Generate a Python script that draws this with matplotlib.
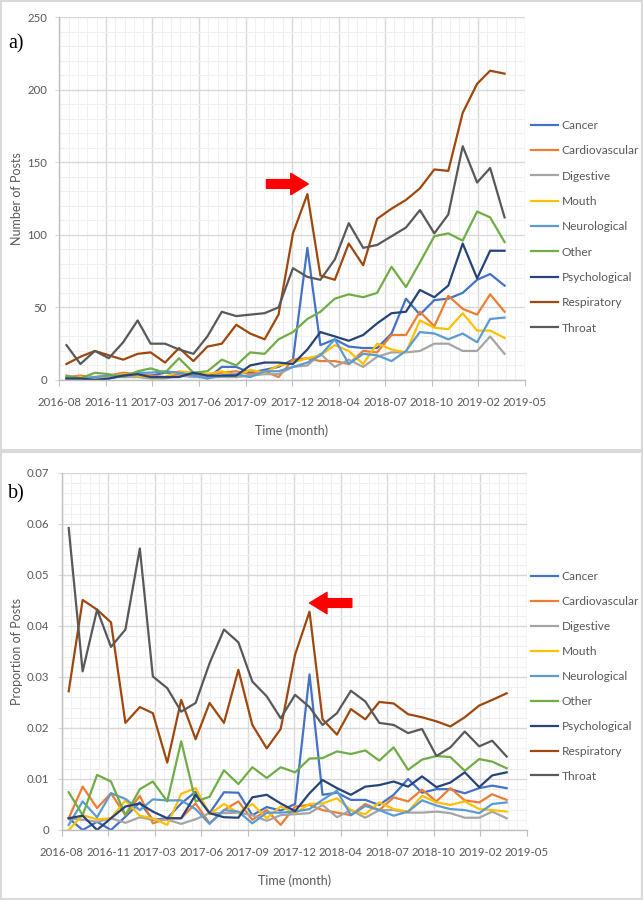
import numpy as np
import pandas as pd
import matplotlib
matplotlib.use("Agg")
import matplotlib.pyplot as plt
import matplotlib.dates as mdates
from matplotlib.patches import Rectangle

plt.rcParams['font.family'] = ['Lato', 'DejaVu Sans']

# monthly data, Sep 2016 .. Apr 2019
months = pd.date_range('2016-09-01', periods=32, freq='MS')
categories = ['Cancer', 'Cardiovascular', 'Digestive', 'Mouth', 'Neurological',
              'Other', 'Psychological', 'Respiratory', 'Throat']
colors = ['#4472C4', '#ED7D31', '#A5A5A5', '#FFC000', '#5B9BD5',
          '#70AD47', '#264478', '#9E480E', '#595959']

# a) number of posts
cancer_n = [1, 1, 0, 1, 3, 3, 3, 5, 5, 4, 1, 9, 9, 5, 7, 9, 14, 91, 24, 28, 23, 22, 22, 32, 56, 45, 55, 56, 60, 69, 73, 65]
cardio_n = [2, 3, 2, 3, 5, 4, 3, 2, 4, 2, 4, 5, 6, 4, 6, 2, 14, 15, 13, 13, 11, 20, 19, 31, 31, 47, 37, 58, 49, 45, 59, 47]
digest_n = [0, 1, 1, 2, 2, 2, 1, 1, 3, 2, 2, 2, 2, 3, 4, 4, 9, 10, 18, 9, 14, 9, 16, 19, 19, 20, 25, 25, 20, 20, 30, 18]
mouth_n = [0, 2, 2, 2, 4, 3, 2, 2, 6, 5, 4, 6, 3, 7, 5, 10, 12, 15, 17, 24, 20, 11, 25, 21, 19, 41, 36, 35, 46, 34, 34, 29]
neuro_n = [1, 1, 2, 3, 3, 5, 5, 6, 5, 3, 1, 3, 4, 2, 6, 6, 9, 12, 17, 28, 11, 18, 17, 13, 20, 33, 32, 28, 32, 26, 42, 43]
other_n = [3, 1, 5, 4, 2, 6, 8, 5, 15, 5, 6, 14, 10, 19, 18, 28, 33, 42, 47, 56, 59, 57, 60, 78, 64, 81, 99, 101, 96, 116, 112, 95]
psych_n = [1, 1, 0, 1, 3, 4, 2, 2, 2, 5, 3, 3, 3, 10, 12, 12, 11, 21, 33, 30, 27, 31, 39, 46, 47, 62, 57, 65, 94, 70, 89, 89]
resp_n = [11, 16, 20, 17, 14, 18, 19, 12, 22, 13, 23, 25, 38, 32, 28, 45, 101, 128, 72, 69, 94, 79, 111, 118, 124, 132, 145, 144, 184, 204, 213, 211]
throat_n = [24, 11, 20, 15, 26, 41, 25, 25, 21, 18, 30, 47, 44, 45, 46, 50, 77, 71, 69, 83, 108, 91, 93, 99, 105, 117, 101, 114, 161, 136, 146, 112]

# b) proportion of posts (x 1/1000)
cancer_p = [2.3, 0, 1.6, 0, 2.6, 5.4, 2.0, 2.3, 5.2, 7.5, 3.3, 7.4, 7.3, 2.9, 4.5, 3.8, 5.1, 30.5, 6.9, 7.3, 5.9, 5.9, 4.9, 6.9, 10.0, 7.3, 8.0, 8.0, 7.2, 8.2, 8.7, 8.2]
cardio_p = [2.3, 8.5, 4.3, 7.2, 2.9, 6.7, 1.3, 2.3, 2.3, 5.2, 1.3, 3.9, 5.6, 2.0, 3.9, 1.0, 4.6, 4.9, 3.9, 3.4, 2.9, 5.1, 3.9, 6.4, 5.6, 7.9, 5.6, 8.2, 5.8, 5.4, 7.0, 5.9]
digest_p = [2.3, 2.0, 1.6, 2.3, 1.4, 2.5, 2.0, 2.0, 1.2, 2.1, 3.3, 3.3, 3.4, 2.9, 1.8, 2.9, 3.1, 3.3, 4.9, 2.5, 3.9, 2.4, 3.9, 3.9, 3.4, 3.4, 3.6, 3.3, 2.4, 2.4, 3.6, 2.3]
mouth_p = [0, 2.9, 2.1, 2.3, 5.8, 2.8, 2.3, 1.0, 7.1, 8.2, 3.1, 5.1, 3.3, 5.1, 2.3, 4.6, 3.3, 5.1, 5.2, 6.2, 3.9, 3.1, 5.4, 4.1, 3.6, 6.7, 5.4, 4.9, 5.6, 4.1, 3.9, 3.6]
neuro_p = [1.0, 5.6, 2.5, 7.2, 6.1, 3.9, 6.0, 5.8, 5.8, 4.1, 1.2, 3.9, 3.6, 1.3, 3.4, 3.4, 3.6, 4.1, 5.9, 7.7, 2.9, 4.7, 3.9, 2.8, 3.6, 5.8, 4.8, 4.1, 3.9, 3.3, 5.1, 5.4]
other_p = [7.4, 2.9, 10.8, 9.5, 2.9, 8.0, 9.5, 5.6, 17.4, 5.6, 6.5, 11.7, 9.0, 12.3, 10.2, 12.3, 11.3, 14.0, 14.1, 15.4, 14.9, 15.6, 13.6, 16.2, 11.8, 13.8, 14.5, 14.3, 11.6, 13.9, 13.4, 12.1]
psych_p = [2.3, 2.8, 0, 2.3, 4.6, 5.2, 3.6, 2.3, 2.3, 6.9, 3.3, 2.5, 2.4, 6.4, 6.9, 5.2, 3.7, 7.2, 9.8, 8.2, 6.9, 8.5, 8.8, 9.5, 8.5, 10.5, 8.4, 9.3, 11.3, 8.4, 10.7, 11.3]
resp_p = [27.2, 45.1, 43.2, 40.7, 21.0, 24.1, 22.9, 13.2, 25.5, 17.8, 24.9, 21.0, 31.4, 20.6, 16.0, 19.8, 34.4, 42.8, 21.7, 18.7, 23.7, 21.7, 25.1, 24.8, 22.7, 22.1, 21.3, 20.3, 22.1, 24.4, 25.5, 26.8]
throat_p = [59.2, 31.1, 43.2, 35.9, 39.3, 55.2, 30.1, 27.8, 23.2, 24.9, 32.7, 39.3, 36.8, 29.1, 26.2, 21.9, 26.5, 24.1, 20.6, 22.9, 27.3, 25.2, 21.0, 20.6, 19.0, 19.8, 14.5, 16.2, 19.3, 16.4, 17.5, 14.4]

series_n = [cancer_n, cardio_n, digest_n, mouth_n, neuro_n, other_n, psych_n, resp_n, throat_n]
series_p = [[v / 1000 for v in s] for s in
            [cancer_p, cardio_p, digest_p, mouth_p, neuro_p, other_p, psych_p, resp_p, throat_p]]

# excel-like date axis: starts 2016-08-17, major every 100 days
x0 = pd.Timestamp('2016-08-17')
major = [x0 + pd.Timedelta(days=100 * i) for i in range(11)]
minor = [x0 + pd.Timedelta(days=20 * i) for i in range(51)]

TXT = '#595959'
FS = 8.2

fig = plt.figure(figsize=(6.43, 9), dpi=100)

# chart frames
for y, h in [(0.5, 0.499), (0.001, 0.497)]:
    fig.patches.append(Rectangle((0.001, y), 0.997, h, transform=fig.transFigure,
                                 fill=False, ec='#D9D9D9', lw=1.5))


def style(ax, ymax, ymaj, ymin_step, fmt):
    ax.set_xlim(major[0], major[-1])
    ax.set_ylim(0, ymax)
    ax.set_xticks(major)
    ax.set_xticks(minor, minor=True)
    ax.xaxis.set_major_formatter(mdates.DateFormatter('%Y-%m'))
    ax.set_yticks(np.arange(0, ymax + ymaj / 2, ymaj))
    ax.set_yticks(np.arange(0, ymax + ymin_step / 2, ymin_step), minor=True)
    ax.yaxis.set_major_formatter(plt.FuncFormatter(fmt))
    ax.grid(which='major', color='#D9D9D9', lw=1.0)
    ax.grid(which='minor', color='#F0F0F0', lw=0.8)
    ax.set_axisbelow(True)
    for s in ['top', 'right']:
        ax.spines[s].set_visible(False)
    for s in ['left', 'bottom']:
        ax.spines[s].set_color('#BFBFBF')
        ax.spines[s].set_linewidth(1.0)
    ax.tick_params(axis='x', which='major', length=4, color='#BFBFBF', labelsize=FS, labelcolor=TXT, pad=8)
    ax.tick_params(axis='y', which='major', length=3, color='#D9D9D9', labelsize=FS, labelcolor=TXT, pad=6)
    ax.tick_params(which='minor', length=0)
    ax.set_xlabel('Time (month)', fontsize=FS + 0.8, color=TXT, labelpad=12)


def add_legend(ax, top, spacing):
    ax.legend(loc='upper left', bbox_to_anchor=(0.818, top), bbox_transform=fig.transFigure,
              frameon=False, fontsize=FS + 0.4, labelcolor=TXT, handlelength=2.3,
              labelspacing=spacing, handletextpad=0.3, borderaxespad=0)


# a)
ax1 = fig.add_axes([0.0925, 0.5778, 0.7233, 0.4033])
for s, c, lab in zip(series_n, colors, categories):
    ax1.plot(months, s, color=c, lw=1.6, label=lab)
style(ax1, 250, 50, 10, lambda v, p: f'{v:.0f}')
ax1.set_ylabel('Number of Posts', fontsize=FS + 0.8, color=TXT, labelpad=3)
add_legend(ax1, 0.872, 1.2)
ax1.annotate('', xy=(pd.Timestamp('2018-02-03'), 135), xytext=(pd.Timestamp('2017-11-05'), 135),
             arrowprops=dict(arrowstyle='simple,head_length=0.9,head_width=1.1,tail_width=0.45',
                             color='#FF0000', mutation_scale=14, shrinkA=0, shrinkB=0))
fig.text(0.013, 0.951, 'a)', family='Liberation Serif', fontsize=14.5, va='center')

# b)
ax2 = fig.add_axes([0.096, 0.0778, 0.723, 0.3967])
for s, c, lab in zip(series_p, colors, categories):
    ax2.plot(months, s, color=c, lw=1.6, label=lab)
style(ax2, 0.07, 0.01, 0.002, lambda v, p: '0' if v == 0 else f'{v:.2f}')
ax2.set_ylabel('Proportion of Posts', fontsize=FS + 0.8, color=TXT, labelpad=3)
add_legend(ax2, 0.371, 1.17)
ax2.annotate('', xy=(pd.Timestamp('2018-02-01'), 0.0445), xytext=(pd.Timestamp('2018-05-03'), 0.0445),
             arrowprops=dict(arrowstyle='simple,head_length=0.9,head_width=1.1,tail_width=0.45',
                             color='#FF0000', mutation_scale=14, shrinkA=0, shrinkB=0))
fig.text(0.013, 0.451, 'b)', family='Liberation Serif', fontsize=14.5, va='center')

fig.savefig('out.png', dpi=100)
